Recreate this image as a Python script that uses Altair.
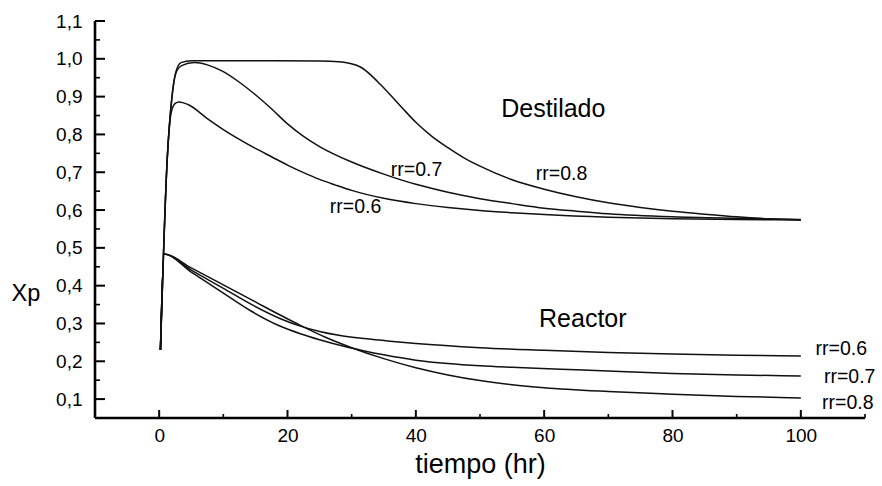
import altair as alt
import pandas as pd

# ---------------- data ----------------
dest_06_t = [0.2, 1.25, 1.9, 2.5, 3.1, 4.5, 7.5, 10, 12.5, 15, 17.5, 20, 22.5, 25, 27.5, 30, 35, 40, 45, 50, 55, 60, 70, 80, 90, 100]
dest_06_x = [0.23, 0.733, 0.86, 0.882, 0.886, 0.879, 0.842, 0.813, 0.787, 0.763, 0.741, 0.719, 0.699, 0.681, 0.666, 0.652, 0.631, 0.617, 0.607, 0.599, 0.593, 0.588, 0.581, 0.577, 0.575, 0.574]

dest_07_t = [0.2, 1.25, 2, 2.6, 3.5, 5.5, 7.5, 10, 12.5, 15, 17.5, 20, 22.5, 25, 30, 35, 40, 45, 50, 55, 60, 65, 70, 80, 90, 100]
dest_07_x = [0.23, 0.733, 0.9, 0.962, 0.982, 0.99, 0.984, 0.966, 0.938, 0.905, 0.868, 0.828, 0.795, 0.768, 0.727, 0.695, 0.668, 0.647, 0.630, 0.617, 0.605, 0.597, 0.590, 0.582, 0.578, 0.575]

dest_08_t = [0.2, 1.25, 2, 2.6, 3.4, 5, 15, 25, 28, 29.4, 31.5, 33, 34.6, 36, 38, 40, 42.5, 45, 47.5, 50, 55, 60, 65, 70, 75, 80, 85, 90, 95, 100]
dest_08_x = [0.23, 0.733, 0.9, 0.965, 0.99, 0.995, 0.995, 0.994, 0.992, 0.989, 0.977, 0.957, 0.93, 0.905, 0.868, 0.832, 0.795, 0.765, 0.738, 0.716, 0.68, 0.655, 0.635, 0.619, 0.607, 0.597, 0.589, 0.582, 0.577, 0.574]

reac_06_t = [0.2, 0.75, 5, 10, 14.3, 19, 22, 25, 28, 32, 36, 40, 50, 60, 70, 80, 90, 100]
reac_06_x = [0.23, 0.484, 0.441, 0.393, 0.351, 0.312, 0.293, 0.279, 0.269, 0.26, 0.253, 0.247, 0.236, 0.229, 0.223, 0.219, 0.216, 0.214]

reac_07_t = [0.2, 0.75, 5, 10, 14.3, 19, 22, 25, 29.4, 35, 40, 45, 50, 55, 62.6, 70, 80, 90, 100]
reac_07_x = [0.23, 0.484, 0.436, 0.38, 0.333, 0.292, 0.273, 0.257, 0.237, 0.217, 0.203, 0.194, 0.188, 0.184, 0.179, 0.174, 0.168, 0.164, 0.161]

reac_08_t = [0.2, 0.75, 5, 10, 15, 19, 22, 26, 30, 35, 40, 45, 50, 55, 60, 70, 80, 90, 100]
reac_08_x = [0.23, 0.484, 0.447, 0.402, 0.357, 0.321, 0.295, 0.263, 0.236, 0.207, 0.183, 0.164, 0.149, 0.138, 0.13, 0.12, 0.113, 0.107, 0.103]

# annotations
big_labels = ["Destilado", "Reactor"]
big_t = [53.3, 59.2]
big_x = [0.846, 0.291]

rr_labels = ["rr=0.6", "rr=0.7", "rr=0.8", "rr=0.6", "rr=0.7", "rr=0.8"]
rr_t = [26.6, 36.1, 58.7, 102.3, 103.6, 103.3]
rr_x = [0.592, 0.69, 0.68, 0.217, 0.143, 0.074]

# axis ticks
x_major = [0, 20, 40, 60, 80, 100]
x_minor = [10, 30, 50, 70, 90, 110]
y_major = [0.1, 0.2, 0.3, 0.4, 0.5, 0.6, 0.7, 0.8, 0.9, 1.0, 1.1]
y_minor = [0.15, 0.25, 0.35, 0.45, 0.55, 0.65, 0.75, 0.85, 0.95, 1.05]

# ---------------- build tables ----------------
series = [
    ("dest_06", dest_06_t, dest_06_x),
    ("dest_07", dest_07_t, dest_07_x),
    ("dest_08", dest_08_t, dest_08_x),
    ("reac_06", reac_06_t, reac_06_x),
    ("reac_07", reac_07_t, reac_07_x),
    ("reac_08", reac_08_t, reac_08_x),
]
rows = []
for name, ts, xs in series:
    for i, (t, x) in enumerate(zip(ts, xs)):
        rows.append({"serie": name, "t": t, "xp": x, "orden": i})
df = pd.DataFrame(rows)

df_big = pd.DataFrame({"t": big_t, "xp": big_x, "txt": big_labels})
df_rr = pd.DataFrame({"t": rr_t, "xp": rr_x, "txt": rr_labels})
df_xmaj = pd.DataFrame({"t": x_major})
df_xmin = pd.DataFrame({"t": x_minor})
df_ymaj = pd.DataFrame({"xp": y_major})
df_ymin = pd.DataFrame({"xp": y_minor})
df_frame = pd.DataFrame({"t": [-10], "xp": [0.05]})

FONT = "Liberation Sans"
W, H = 770, 397

xscale = alt.Scale(domain=[-10, 110], nice=False, zero=False)
yscale = alt.Scale(domain=[0.05, 1.1], nice=False, zero=False)

xaxis = alt.Axis(
    values=x_major, title="tiempo (hr)", labelPadding=8,
    titleFontSize=27, titlePadding=6,
)
yaxis = alt.Axis(
    values=y_major, title="Xp", labelPadding=13,
    labelExpr="replace(format(datum.value, '.1f'), '.', ',')",
    titleFontSize=23.5,
    titleAngle=0, titleAlign="left", titleBaseline="alphabetic", titleX=-84, titleY=279,
)

X = alt.X("t:Q", scale=xscale, axis=xaxis)
Y = alt.Y("xp:Q", scale=yscale, axis=yaxis)

lines = alt.Chart(df).mark_line(
    color="#111111", strokeWidth=1.5, interpolate="monotone"
).encode(x=X, y=Y, detail="serie:N", order="orden:Q")

big_text = alt.Chart(df_big).mark_text(
    font=FONT, fontSize=25, align="left", baseline="alphabetic", color="black"
).encode(x=X, y=Y, text="txt:N")

rr_text = alt.Chart(df_rr).mark_text(
    font=FONT, fontSize=19.5, align="left", baseline="alphabetic", color="black"
).encode(x=X, y=Y, text="txt:N")

xmaj_ticks = alt.Chart(df_xmaj).mark_rule(color="black", strokeWidth=2).encode(
    x=X, y=alt.value(H), y2=alt.value(H - 8)
)
xmin_ticks = alt.Chart(df_xmin).mark_rule(color="black", strokeWidth=1.6).encode(
    x=X, y=alt.value(H), y2=alt.value(H - 4)
)
ymaj_ticks = alt.Chart(df_ymaj).mark_rule(color="black", strokeWidth=2).encode(
    y=Y, x=alt.value(0), x2=alt.value(10)
)
ymin_ticks = alt.Chart(df_ymin).mark_rule(color="black", strokeWidth=1.6).encode(
    y=Y, x=alt.value(0), x2=alt.value(5)
)
# axis lines (frame left & bottom) drawn in solid black
x_line = alt.Chart(df_frame).mark_rule(color="black", strokeWidth=2.6).encode(
    x=alt.value(0), x2=alt.value(W), y=Y
)
y_line = alt.Chart(df_frame).mark_rule(color="black", strokeWidth=2.6).encode(
    x=X, y=alt.value(0), y2=alt.value(H)
)

chart = alt.layer(
    lines, xmaj_ticks, xmin_ticks, ymaj_ticks, ymin_ticks, x_line, y_line, big_text, rr_text
).properties(
    width=W, height=H,
    background="white",
    autosize=alt.AutoSizeParams(type="none"),
    padding={"left": 95, "top": 21, "right": 17, "bottom": 68},
).configure_view(
    strokeWidth=0
).configure_axis(
    grid=False, ticks=False, tickSize=0,
    domain=False,
    labelFont=FONT, labelFontSize=19, labelColor="#000000", labelOverlap=False,
    labelFlush=False,
    titleFont=FONT, titleFontWeight="normal", titleColor="#000000",
)

chart.save("out.html", embed_options={"renderer": "svg", "actions": False})
